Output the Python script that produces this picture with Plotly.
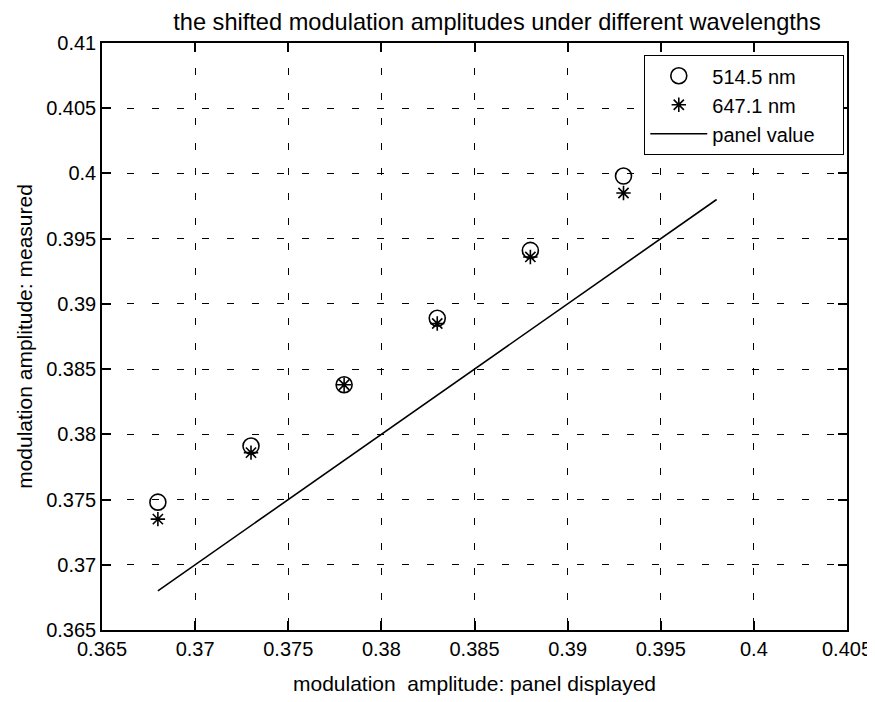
import plotly.graph_objects as go

panel_x = [0.368, 0.373, 0.378, 0.383, 0.388, 0.393]
meas_514 = [0.3748, 0.3791, 0.3838, 0.3889, 0.3941, 0.3998]
meas_647 = [0.3735, 0.3786, 0.3838, 0.3885, 0.3936, 0.3985]
line_x = [0.368, 0.398]
line_y = [0.368, 0.398]

xticks = [0.365, 0.37, 0.375, 0.38, 0.385, 0.39, 0.395, 0.4, 0.405]
yticks = [0.365, 0.37, 0.375, 0.38, 0.385, 0.39, 0.395, 0.4, 0.405, 0.41]

names = ["514.5 nm", "647.1 nm", "panel value\u00a0\u00a0\u00a0\u00a0"]

fig = go.Figure()
fig.add_trace(go.Scatter(x=panel_x, y=meas_514, mode="markers", name=names[0],
                         marker=dict(symbol="circle-open", size=16, color="black", line=dict(width=1.6))))
fig.add_trace(go.Scatter(x=panel_x, y=meas_647, mode="markers", name=names[1],
                         marker=dict(symbol="asterisk-open", size=12, color="black", line=dict(width=1.6))))
fig.add_trace(go.Scatter(x=line_x, y=line_y, mode="lines", name=names[2],
                         line=dict(color="black", width=1.6)))

font = "Liberation Sans, Arial, Helvetica, sans-serif"
axis_common = dict(
    showline=True, linecolor="black", linewidth=1.5, mirror="ticks",
    ticks="inside", ticklen=9, tickcolor="black", tickwidth=1.5,
    showgrid=True, gridcolor="black", gridwidth=1.3, griddash="7px,18px",
    zeroline=False, tickfont=dict(size=20, color="black", family=font),
)
# the page body adds an 8px offset, so the figure is sized to fit the window after it
W, H = 867, 694
fig.update_layout(
    width=W, height=H,
    margin=dict(l=94, r=28, t=35, b=72, autoexpand=False),
    paper_bgcolor="white", plot_bgcolor="white",
    font=dict(family=font, color="black", size=21),
    title=dict(text="the shifted modulation amplitudes under different wavelengths",
               x=489 / W, xanchor="center", y=1 - 14 / H, yanchor="middle",
               font=dict(size=23.6, color="black")),
    xaxis=dict(range=[0.365, 0.405], tickvals=xticks, ticktext=[f"{v:g}" for v in xticks],
               title=dict(text="modulation  amplitude: panel displayed", font=dict(size=21), standoff=18),
               **axis_common),
    yaxis=dict(range=[0.365, 0.41], tickvals=yticks, ticktext=[f"{v:g}" for v in yticks],
               title=dict(text="modulation amplitude: measured", font=dict(size=21), standoff=8),
               **axis_common),
    legend=dict(x=0.7275, y=0.9796, xanchor="left", yanchor="top",
                bgcolor="white", bordercolor="black", borderwidth=1.3,
                font=dict(size=20, color="black"), tracegroupgap=0, itemwidth=57),
    showlegend=True,
)
fig.write_html("out.html")
